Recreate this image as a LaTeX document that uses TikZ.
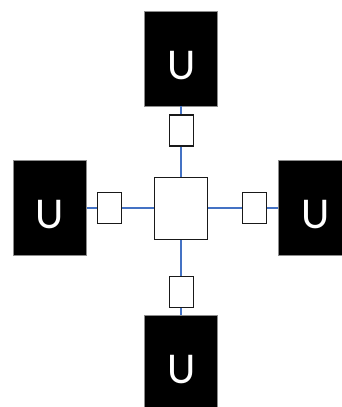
\documentclass[tikz,border=0pt]{standalone}
\usepackage{fontspec}
\newfontfamily\ufont{Carlito}
\definecolor{connblue}{RGB}{68,114,196}
\begin{document}
\begin{tikzpicture}[x=1pt,y=-1pt,
  ubox/.style={draw=black!45,line width=0.6pt,fill=black,minimum width=73pt,minimum height=95pt,inner sep=0pt},
  ulabel/.style={text=white,font=\ufont\fontsize{44}{44}\selectfont,inner sep=0pt},
  sbox/.style={draw=black!90,line width=1.2pt,fill=white,minimum width=24pt,minimum height=31pt,inner sep=0pt},
  cbox/.style={draw=black!90,line width=1.2pt,fill=white,minimum width=53pt,minimum height=62.5pt,inner sep=0pt},
  conn/.style={draw=connblue,line width=1.5pt}]
\useasboundingbox (0,0) rectangle (341,407);
\node[ubox] (ut) at (181.2,58.5) {};
\node[ubox] (ul) at (49.8,207.8) {};
\node[ubox] (ur) at (315.2,207.8) {};
\node[ubox] (ub) at (181.2,362.5) {};
\node[ulabel] (utl) at ([yshift=-6.8pt]ut.center) {U};
\node[ulabel] (ull) at ([yshift=-6.8pt]ul.center) {U};
\node[ulabel] (url) at ([yshift=-6.8pt]ur.center) {U};
\node[ulabel] (ubl) at ([yshift=-6.8pt]ub.center) {U};
\node[cbox] (c) at (181.2,208.5) {};
\node[sbox] (st) at (181.2,130.5) {};
\node[sbox] (sb) at (181.2,292.2) {};
\node[sbox] (sl) at (109.2,207.8) {};
\node[sbox] (sr) at (254.8,207.8) {};
\draw[conn] (ut.south) -- (st.north);
\draw[conn] (st.south) -- (c.north);
\draw[conn] (c.south) -- (sb.north);
\draw[conn] (sb.south) -- (ub.north);
\draw[conn] (ul.east) -- (sl.west);
\draw[conn] (sl.east) -- (c.west |- sl.east);
\draw[conn] (c.east |- sr.west) -- (sr.west);
\draw[conn] (sr.east) -- (ur.west);
\end{tikzpicture}
\end{document}
